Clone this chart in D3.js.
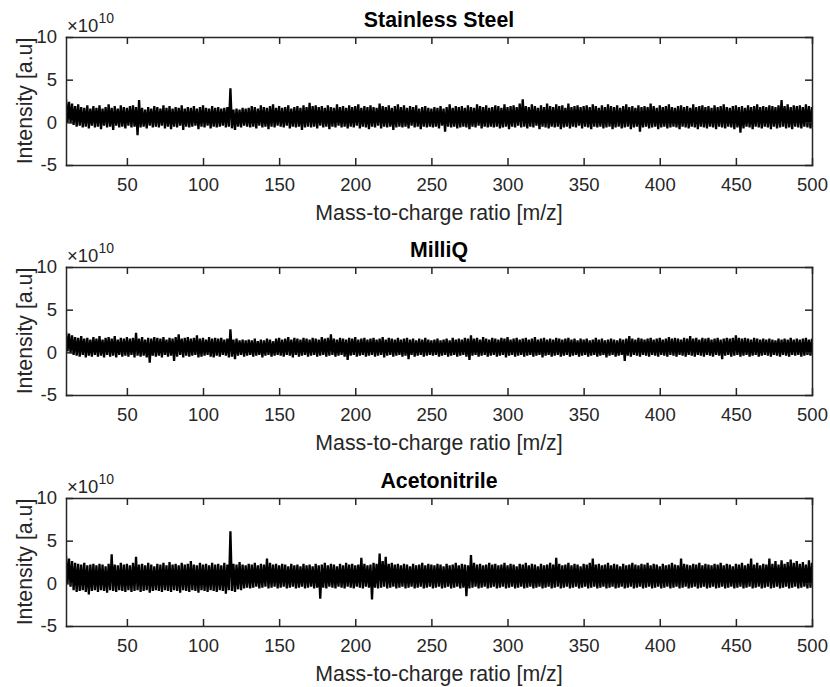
<!DOCTYPE html>
<html>
<head>
<meta charset="utf-8">
<script src="https://cdn.jsdelivr.net/npm/d3@7"></script>
<style>
  body { margin: 0; background: #ffffff; }
  svg { display: block; }
  text { font-family: "Liberation Sans", Arial, Helvetica, sans-serif; }
</style>
</head>
<body>
<svg id="chart" width="830" height="687"></svg>
<script>
// ---------------- DATA ----------------
const panelTitles = ["Stainless Steel", "MilliQ", "Acetonitrile"];
const xLabel = "Mass-to-charge ratio [m/z]";
const yLabel = "Intensity [a.u]";
const exponentBase = "\u00d710";
const exponentPower = "10";
const mzStart = 10;          // first m/z of every series, one value per m/z unit
const xDomain = [10, 500];
const yDomain = [-5, 10];
const xTickValues = [50, 100, 150, 200, 250, 300, 350, 400, 450, 500];
const yTickValues = [-5, 0, 5, 10];
const yTickLabels = ["-5", "0", "5", "10"];

// intensities (x 1e10), m/z 10..500 in steps of 1
const steelIntensity = [
  2.7,0.0,2.4,-0.1,2.2,-0.3,1.9,-0.5,2.1,-0.4,1.8,-0.6,1.7,-0.5,2.0,-0.7,1.6,-0.4,1.9,-0.6,
  1.7,-0.5,2.0,-0.8,1.6,-0.4,1.8,-0.6,2.1,-0.5,1.7,-0.9,1.9,-0.4,1.6,-0.6,2.0,-0.5,1.8,-0.7,
  1.7,-0.4,1.9,-0.6,2.0,-0.5,1.8,-1.5,2.6,-0.6,1.7,-0.5,1.5,-0.7,1.8,-0.4,1.6,-0.6,1.9,-0.5,
  1.8,-0.6,1.6,-0.4,2.0,-0.7,1.7,-0.5,1.9,-0.8,1.6,-0.5,1.8,-0.6,1.7,-0.4,2.0,-0.9,1.6,-0.5,
  1.8,-0.6,1.7,-0.5,1.9,-0.4,1.6,-0.8,1.8,-0.5,2.0,-0.6,1.7,-0.4,1.6,-0.7,1.9,-0.5,1.7,-0.6,
  1.8,-0.5,1.6,-0.4,1.7,-0.6,1.8,-0.5,4.0,-0.7,1.5,-0.9,1.6,-0.5,1.5,-0.6,1.7,-0.4,1.6,-0.5,
  1.7,-0.6,1.9,-0.5,1.8,-0.7,1.6,-0.4,2.0,-0.6,1.8,-0.5,1.7,-0.8,1.9,-0.5,2.1,-0.6,1.7,-0.4,
  1.9,-0.5,1.7,-0.6,1.8,-0.4,2.0,-0.7,1.6,-0.5,1.8,-0.6,1.9,-0.5,1.7,-0.9,2.0,-0.6,1.8,-0.5,
  2.3,-0.6,1.9,-0.5,2.0,-0.7,1.8,-0.4,1.9,-0.6,1.7,-0.5,2.0,-0.8,1.8,-0.5,1.7,-0.6,2.1,-0.4,
  1.8,-0.6,1.9,-0.5,1.7,-0.7,2.0,-0.5,1.8,-0.6,1.9,-0.4,2.1,-0.7,1.7,-0.5,1.9,-0.6,1.8,-0.8,
  2.0,-0.5,1.8,-0.6,1.7,-0.4,2.2,-0.7,1.9,-0.5,1.8,-0.6,2.0,-0.5,1.7,-0.9,1.9,-0.6,2.1,-0.5,
  1.8,-0.6,2.0,-0.5,1.7,-0.7,1.9,-0.4,1.8,-0.6,2.0,-0.5,1.6,-0.8,1.8,-0.5,1.9,-0.6,1.7,-0.5,
  1.6,-0.6,1.8,-0.5,1.7,-0.7,1.9,-0.4,1.6,-1.1,1.8,-0.5,2.1,-0.6,1.7,-0.5,1.9,-0.7,1.8,-0.6,
  1.9,-0.5,1.7,-0.6,2.0,-0.8,1.8,-0.5,1.7,-0.6,2.1,-0.4,1.9,-0.7,1.8,-0.5,2.0,-0.6,1.7,-0.5,
  1.8,-0.6,2.0,-0.5,1.9,-0.7,1.7,-0.6,2.1,-0.5,1.8,-0.8,1.9,-0.5,2.0,-0.6,1.8,-0.4,2.2,-0.6,
  2.7,-0.5,1.9,-0.7,1.8,-0.5,2.1,-0.6,1.9,-0.4,1.7,-0.8,2.0,-0.5,1.8,-0.6,2.2,-0.7,1.9,-0.5,
  1.8,-0.6,2.1,-0.5,1.9,-0.8,2.0,-0.6,1.7,-0.5,2.2,-0.7,1.8,-0.5,1.9,-0.6,2.0,-0.4,1.8,-0.7,
  1.9,-0.5,2.0,-0.6,1.8,-0.8,2.1,-0.5,1.9,-0.6,1.7,-0.5,2.0,-0.7,1.8,-0.6,2.1,-0.5,1.9,-0.8,
  1.8,-0.6,2.0,-0.5,1.7,-0.7,1.9,-0.6,2.1,-0.5,1.8,-0.8,1.9,-0.6,1.7,-0.5,2.0,-1.1,1.8,-0.6,
  1.9,-0.5,1.8,-0.7,2.2,-0.6,1.9,-0.5,1.7,-0.8,2.0,-0.6,1.8,-0.5,1.9,-0.7,2.1,-0.6,1.8,-0.5,
  1.7,-0.6,1.9,-0.8,2.0,-0.5,1.8,-0.6,1.9,-0.7,1.7,-0.5,2.1,-0.6,1.8,-0.8,1.9,-0.5,2.0,-0.6,
  1.8,-0.7,1.9,-0.5,1.7,-0.6,2.0,-0.8,1.8,-0.5,1.9,-0.6,2.1,-0.7,1.8,-0.5,1.7,-0.6,1.9,-0.8,
  2.0,-0.6,1.8,-1.2,1.9,-0.7,1.7,-0.5,2.0,-0.6,1.8,-0.8,1.9,-0.5,2.1,-0.6,1.8,-0.7,1.9,-0.5,
  1.8,-0.6,2.0,-0.8,1.9,-0.5,1.8,-0.7,2.0,-0.6,2.6,-0.5,1.9,-0.7,2.1,-0.6,1.8,-0.8,2.0,-0.5,
  1.9,-0.6,2.0,-0.7,1.8,-0.5,2.1,-0.6,1.9,-0.7,1.8
];

const milliqIntensity = [
  2.4,0.1,2.2,-0.1,2.0,-0.3,1.8,-0.4,1.7,-0.5,1.9,-0.3,1.6,-0.6,1.7,-0.4,1.5,-0.5,1.8,-0.3,
  1.6,-0.5,1.9,-0.4,1.5,-0.6,1.7,-0.3,1.8,-0.5,1.6,-0.4,1.9,-0.6,1.5,-0.3,1.7,-0.5,1.6,-0.4,
  1.8,-0.5,1.6,-0.3,1.7,-0.6,2.3,-0.4,1.6,-0.5,1.8,-0.4,1.5,-0.6,1.7,-1.2,1.6,-0.4,1.8,-0.5,
  1.7,-0.4,1.6,-0.6,1.8,-0.3,1.5,-0.5,1.7,-0.4,1.6,-1.0,1.8,-0.5,2.1,-0.3,1.6,-0.6,1.7,-0.4,
  1.8,-0.5,1.6,-0.4,1.7,-0.3,2.0,-0.6,1.6,-0.5,1.7,-0.4,1.5,-0.3,1.8,-0.5,1.6,-0.6,1.7,-0.4,
  1.6,-0.5,1.7,-0.3,1.5,-0.4,1.6,-0.6,2.7,-0.5,1.5,-0.8,1.6,-0.4,1.4,-0.3,1.5,-0.5,1.4,-0.4,
  1.5,-0.3,1.4,-0.5,1.6,-0.4,1.3,-0.3,1.5,-0.6,1.4,-0.4,1.6,-0.3,1.5,-0.5,1.3,-0.4,1.6,-0.3,
  1.7,-0.4,1.5,-0.5,1.6,-0.3,1.8,-0.4,1.5,-0.6,1.7,-0.3,1.6,-0.5,1.5,-0.4,1.7,-0.3,1.6,-0.5,
  1.5,-0.4,1.7,-0.3,1.6,-0.5,1.5,-0.4,1.8,-0.3,1.6,-0.5,1.7,-0.4,2.1,-0.3,1.6,-0.5,1.5,-0.4,
  1.7,-0.3,1.6,-0.5,1.5,-0.9,1.7,-0.4,1.6,-0.3,1.8,-0.5,1.5,-0.4,1.6,-0.3,1.7,-0.5,1.5,-0.4,
  1.6,-0.3,1.7,-0.5,1.5,-0.4,1.6,-0.3,1.8,-0.6,1.5,-0.4,1.7,-0.3,1.6,-0.5,1.5,-0.4,1.7,-0.3,
  1.5,-0.5,1.6,-0.4,1.7,-0.8,1.5,-0.3,1.6,-0.5,1.4,-0.4,1.6,-0.3,1.5,-0.5,1.7,-0.4,1.5,-0.3,
  1.4,-0.4,1.5,-0.3,1.6,-0.5,1.4,-0.4,1.5,-0.3,1.6,-0.5,1.4,-0.4,1.7,-0.3,1.5,-0.5,1.6,-0.4,
  1.5,-0.3,1.7,-0.5,1.6,-0.9,2.0,-0.4,1.6,-0.3,1.7,-0.5,1.5,-0.4,1.8,-0.3,1.6,-0.5,1.5,-0.4,
  1.7,-0.3,1.6,-0.5,1.5,-0.4,1.7,-0.3,1.6,-0.6,1.8,-0.4,1.5,-0.3,1.6,-0.5,1.7,-0.4,1.5,-0.3,
  1.6,-0.5,1.7,-0.4,1.5,-0.3,1.6,-0.5,1.8,-0.4,1.5,-0.3,1.6,-0.6,1.7,-0.4,1.5,-0.3,1.6,-0.5,
  1.5,-0.4,1.7,-0.3,1.6,-0.5,1.5,-0.4,1.6,-0.3,1.7,-0.5,1.5,-0.4,1.6,-0.3,1.4,-0.5,1.6,-0.4,
  1.5,-0.3,1.6,-0.5,1.4,-0.4,1.5,-0.3,1.7,-0.5,1.5,-0.4,1.6,-0.3,1.4,-0.6,1.5,-0.4,1.6,-0.3,
  1.5,-0.5,1.4,-0.4,1.6,-0.3,1.5,-1.0,1.6,-0.4,1.9,-0.5,1.6,-0.3,1.5,-0.4,1.7,-0.5,1.6,-0.3,
  1.5,-0.4,1.6,-0.5,1.7,-0.3,1.5,-0.4,1.6,-0.5,1.7,-0.3,1.5,-0.4,1.6,-0.5,1.8,-0.3,1.6,-0.4,
  1.7,-0.5,1.6,-0.3,1.5,-0.4,1.7,-0.5,1.6,-0.3,1.9,-0.4,1.6,-0.5,1.7,-0.3,1.5,-0.4,1.7,-0.5,
  1.6,-0.3,1.7,-0.4,1.5,-0.5,1.6,-0.3,1.7,-0.4,1.5,-0.8,1.6,-0.4,1.7,-0.3,1.6,-0.5,1.7,-0.4,
  2.0,-0.3,1.7,-0.5,1.6,-0.4,1.7,-0.3,1.6,-0.5,1.5,-0.4,1.7,-0.3,1.6,-0.5,1.5,-0.4,1.6,-0.3,
  1.5,-0.4,1.6,-0.5,1.5,-0.3,1.4,-0.4,1.6,-0.5,1.5,-0.3,1.6,-0.4,1.5,-0.5,1.7,-0.3,1.5,-0.4,
  1.6,-0.3,1.5,-0.5,1.6,-0.4,1.7,-0.3,1.5,-0.4,1.6
];

const acetonitrileIntensity = [
  3.2,0.0,2.9,-0.4,2.6,-0.8,2.4,-1.0,2.3,-0.9,2.2,-0.8,2.4,-1.0,2.1,-1.3,2.2,-0.9,2.3,-0.8,
  2.1,-1.0,2.3,-0.8,2.2,-0.9,2.0,-1.1,2.3,-0.8,3.4,-0.9,2.2,-1.0,2.1,-0.8,2.4,-0.9,2.2,-1.0,
  2.3,-0.8,2.1,-1.0,2.4,-0.9,3.1,-0.8,2.2,-1.0,2.3,-0.9,2.1,-0.8,2.4,-1.1,2.2,-0.9,2.0,-0.8,
  2.3,-0.9,2.2,-1.0,2.4,-0.8,2.1,-0.9,2.5,-1.0,2.2,-0.8,2.3,-0.9,2.1,-1.1,2.4,-0.8,2.2,-0.9,
  2.3,-1.0,2.6,-0.8,2.2,-0.9,2.1,-1.1,2.4,-0.8,2.2,-0.9,2.3,-1.0,2.1,-0.8,2.4,-0.9,2.2,-1.0,
  2.3,-0.8,2.1,-0.9,2.4,-1.2,2.2,-0.8,6.1,-0.9,2.3,-1.0,2.2,-0.7,2.5,-0.8,2.2,-0.6,2.1,-0.5,
  2.3,-0.6,2.2,-0.5,2.4,-0.4,2.1,-0.6,2.3,-0.5,2.2,-0.4,2.9,-0.6,2.4,-0.5,2.2,-0.4,2.3,-0.6,
  2.1,-0.5,2.3,-0.4,2.2,-0.6,2.0,-0.5,2.3,-0.4,2.1,-0.6,2.2,-0.5,2.0,-0.4,2.3,-0.6,2.1,-0.5,
  2.2,-0.4,2.0,-0.6,2.3,-0.5,2.1,-1.8,2.2,-0.5,2.4,-0.6,2.1,-0.4,2.3,-0.5,2.2,-0.6,2.0,-0.4,
  2.3,-0.5,2.1,-0.6,2.4,-0.4,2.2,-0.5,2.3,-0.6,2.1,-0.4,2.2,-0.5,3.0,-0.6,2.3,-0.4,2.1,-0.5,
  2.2,-1.9,2.4,-0.5,2.3,-0.6,3.5,-0.5,2.6,-0.4,3.1,-0.6,2.3,-0.5,2.4,-0.4,2.2,-0.6,2.3,-0.5,
  2.1,-0.4,2.3,-0.6,2.2,-0.5,2.0,-0.4,2.3,-0.6,2.1,-0.5,2.2,-0.4,2.4,-0.6,2.1,-0.5,2.3,-0.4,
  2.2,-0.6,2.1,-0.5,2.3,-0.4,2.2,-0.6,2.0,-0.5,2.3,-0.4,2.1,-0.6,2.2,-0.5,2.4,-0.4,2.1,-0.6,
  2.3,-0.5,2.2,-1.5,2.1,-0.6,3.3,-0.5,2.4,-0.4,2.2,-0.6,2.3,-0.5,2.1,-0.4,2.2,-0.6,2.4,-0.5,
  2.2,-0.4,2.3,-0.6,2.1,-0.5,2.2,-0.4,2.4,-0.6,2.1,-0.5,2.3,-0.4,2.2,-0.6,2.0,-0.5,2.3,-0.4,
  2.2,-0.6,2.4,-0.5,2.1,-0.4,2.3,-0.6,2.2,-0.5,2.0,-0.4,2.3,-0.6,2.1,-0.5,2.2,-0.4,2.4,-0.6,
  2.2,-0.5,3.0,-0.4,2.3,-0.6,2.1,-0.5,2.2,-0.4,2.4,-0.6,2.1,-0.5,2.3,-0.4,2.2,-0.6,2.0,-0.5,
  2.3,-0.4,2.2,-0.6,2.4,-0.5,2.9,-0.4,2.2,-0.6,2.3,-0.5,2.1,-0.4,2.2,-0.6,2.4,-0.5,2.1,-0.4,
  2.3,-0.6,2.2,-0.5,2.0,-0.4,2.3,-0.6,2.1,-0.5,2.2,-0.4,2.4,-0.6,2.2,-0.5,2.1,-0.4,2.3,-0.6,
  2.2,-0.5,2.4,-0.4,2.1,-0.6,2.3,-0.5,2.2,-0.4,2.0,-0.6,2.3,-0.5,2.1,-0.4,2.2,-0.6,2.4,-0.5,
  2.2,-0.4,2.1,-0.6,2.9,-0.5,2.3,-0.4,2.2,-0.6,2.1,-0.5,2.3,-0.4,2.2,-0.6,2.4,-0.5,2.1,-0.4,
  2.3,-0.6,2.2,-0.5,2.1,-0.4,2.3,-0.6,2.2,-0.5,2.4,-0.4,2.1,-0.6,2.3,-0.5,2.2,-0.4,2.0,-0.6,
  2.3,-0.5,2.2,-0.4,2.4,-0.6,2.1,-0.5,2.3,-0.4,2.9,-0.6,2.2,-0.5,2.4,-0.4,2.1,-0.6,2.3,-0.5,
  2.2,-0.4,2.9,-0.6,2.3,-0.5,2.6,-0.4,2.2,-0.6,2.7,-0.5,2.3,-0.4,2.5,-0.6,2.8,-0.5,2.4,-0.4,
  2.6,-0.6,2.3,-0.5,2.5,-0.4,2.2,-0.6,2.7,-0.5,2.4
];

const seriesList = [steelIntensity, milliqIntensity, acetonitrileIntensity];

// ---------------- LAYOUT ----------------
const W = 830, H = 687;
const plotLeft = 66, plotRight = 812;
const panelTops = [37, 267, 498];
const panelHeight = 128;
const axisColor = "#262626";
const tickFont = 18.5, labelFont = 21.3, titleFont = 21.3;

const svg = d3.select("#chart");
svg.append("rect").attr("width", W).attr("height", H).attr("fill", "#fff");

const x = d3.scaleLinear().domain(xDomain).range([plotLeft, plotRight]);

seriesList.forEach((series, p) => {
  const top = panelTops[p];
  const y = d3.scaleLinear().domain(yDomain).range([top + panelHeight, top]);
  const g = svg.append("g");

  const clipId = "clip" + p;
  svg.append("defs").append("clipPath").attr("id", clipId)
    .append("rect").attr("x", plotLeft).attr("y", top)
    .attr("width", plotRight - plotLeft).attr("height", panelHeight);

  // data line
  const line = d3.line()
    .x((d, i) => x(mzStart + i))
    .y(d => y(d));
  g.append("path")
    .datum(series)
    .attr("clip-path", `url(#${clipId})`)
    .attr("fill", "none")
    .attr("stroke", "#000")
    .attr("stroke-width", 2.3)
    .attr("stroke-linejoin", "bevel")
    .attr("d", line);

  // axes (box with inward ticks)
  const styleAxis = sel => {
    sel.selectAll(".domain").attr("stroke", axisColor).attr("stroke-width", 1.5);
    sel.selectAll(".tick line").attr("stroke", axisColor).attr("stroke-width", 1.5);
    sel.selectAll(".tick text").attr("fill", axisColor)
      .style("font-size", tickFont + "px")
      .style("font-family", '"Liberation Sans", Arial, Helvetica, sans-serif');
  };

  g.append("g").attr("transform", `translate(0,${top + panelHeight})`)
    .call(d3.axisBottom(x).tickValues(xTickValues).tickSizeInner(-7).tickSizeOuter(0).tickPadding(13))
    .call(styleAxis);
  g.append("g").attr("transform", `translate(0,${top})`)
    .call(d3.axisTop(x).tickValues(xTickValues).tickSizeInner(-7).tickSizeOuter(0).tickFormat(() => ""))
    .call(styleAxis);
  g.append("g").attr("transform", `translate(${plotLeft},0)`)
    .call(d3.axisLeft(y).tickValues(yTickValues).tickSizeInner(-7).tickSizeOuter(0).tickPadding(9)
      .tickFormat((d) => yTickLabels[yTickValues.indexOf(d)]))
    .call(styleAxis);
  g.append("g").attr("transform", `translate(${plotRight},0)`)
    .call(d3.axisRight(y).tickValues(yTickValues).tickSizeInner(-7).tickSizeOuter(0).tickFormat(() => ""))
    .call(styleAxis);
  g.selectAll(".domain").attr("stroke-linecap", "square");

  // exponent label
  const ex = g.append("text")
    .attr("x", plotLeft + 1).attr("y", top - 5)
    .attr("fill", axisColor)
    .style("font-size", "18.5px");
  ex.append("tspan").text(exponentBase);
  ex.append("tspan").attr("dy", -9).style("font-size", "14px").text(exponentPower);

  // title
  g.append("text")
    .attr("x", (plotLeft + plotRight) / 2).attr("y", top - 10)
    .attr("text-anchor", "middle")
    .attr("fill", "#000")
    .style("font-size", titleFont + "px").style("font-weight", "bold")
    .text(panelTitles[p]);

  // x label
  g.append("text")
    .attr("x", (plotLeft + plotRight) / 2).attr("y", top + panelHeight + 54.5)
    .attr("text-anchor", "middle")
    .attr("fill", axisColor)
    .style("font-size", labelFont + "px")
    .text(xLabel);

  // y label
  g.append("text")
    .attr("transform", `translate(32,${top + panelHeight / 2}) rotate(-90)`)
    .attr("text-anchor", "middle")
    .attr("fill", axisColor)
    .style("font-size", labelFont + "px")
    .text(yLabel);
});
</script>
</body>
</html>
